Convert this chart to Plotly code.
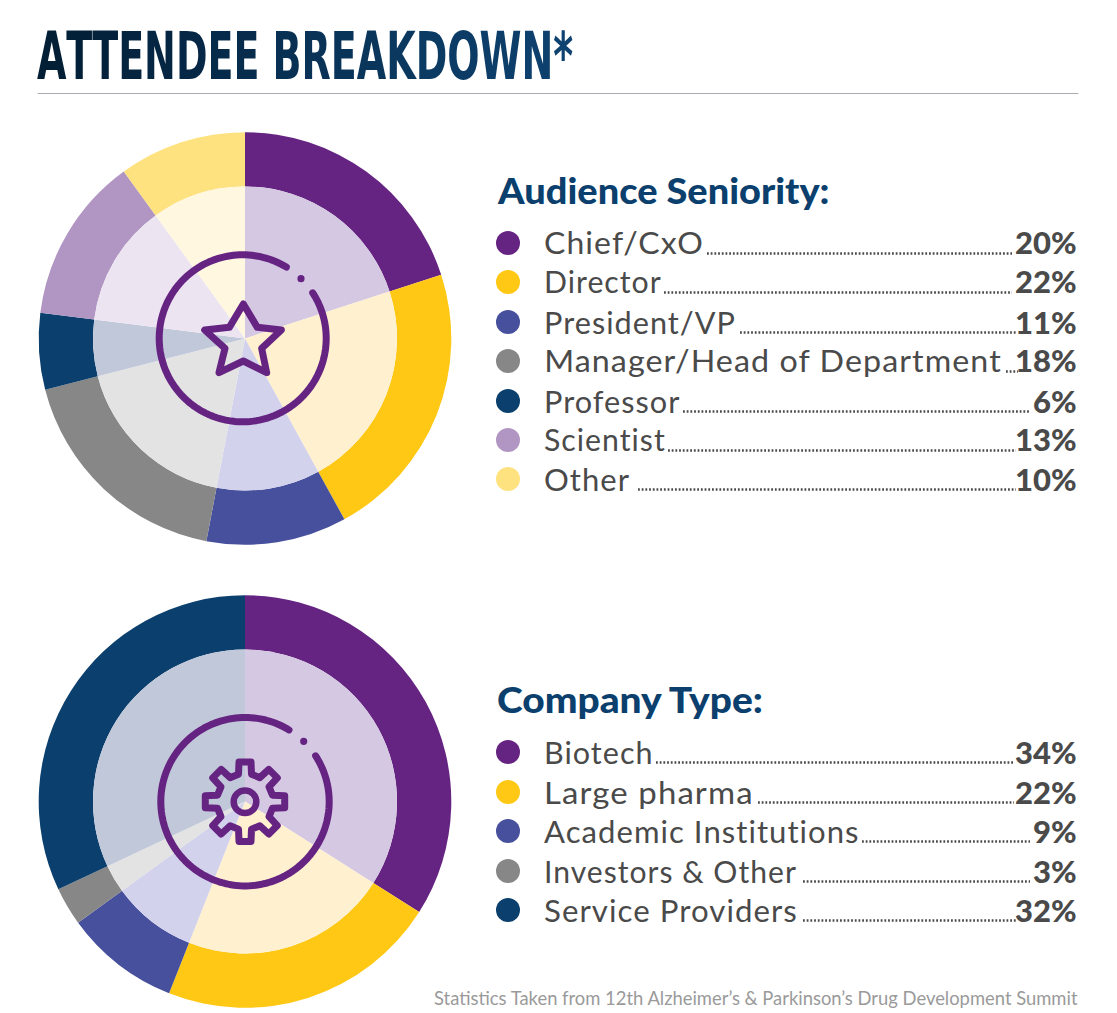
import json
import numpy as np
import plotly.graph_objects as go

W, H = 1117, 1013

seniority_labels = ["Chief/CxO", "Director", "President/VP", "Manager/Head of Department", "Professor", "Scientist", "Other"]
seniority_values = [20, 22, 11, 18, 6, 13, 10]
seniority_dark = ["#662482", "#fec815", "#47509c", "#878787", "#0b3f6d", "#b195c2", "#fee27f"]
seniority_light = ["#d5c8e2", "#fff0d0", "#d3d2ec", "#e3e3e3", "#c1c8da", "#ece4f1", "#fff7e0"]

company_labels = ["Biotech", "Large pharma", "Academic Institutions", "Investors & Other", "Service Providers"]
company_values = [34, 22, 9, 3, 32]
company_dark = ["#662482", "#fec815", "#47509c", "#878787", "#0b3f6d"]
company_light = ["#d5c8e2", "#fff0d0", "#d3d2ec", "#e3e3e3", "#c1c8da"]

# layout of the two legends (pixels)
seniority_layout = dict(rows=[243, 282, 322, 361, 401, 440, 479],
                        ends=[704, 662, 736, 1002, 681, 666, 630],
                        leaders=[(707, 1012), (664, 1012), (740, 1017), (1006, 1018), (683, 1030), (668, 1016), (638, 1016)])
company_layout = dict(rows=[752, 792, 831, 871, 910],
                      ends=[654, 754, 860, 797, 798],
                      leaders=[(656, 1014), (758, 1014), (862, 1030), (803, 1030), (803, 1016)])

BODY = "Lato"
TEXT = "#4a4a4a"
NAVY = "#0b3f6d"
PURPLE = "#662482"


def px(x):
    return x / W


def py(y):
    return 1 - y / H


def pie(cx, cy, r, vals, labels, colors, hole=0):
    return go.Pie(
        values=vals, labels=labels, sort=False, direction="clockwise", rotation=0,
        hole=hole, textinfo="none", hoverinfo="label+percent", showlegend=False,
        marker=dict(colors=colors, line=dict(width=0)),
        domain=dict(x=[px(cx - r), px(cx + r)], y=[py(cy + r), py(cy - r)]),
    )


fig = go.Figure()
for cy, vals, labels, dark, light in [
    (338.5, seniority_values, seniority_labels, seniority_dark, seniority_light),
    (801.5, company_values, company_labels, company_dark, company_light),
]:
    fig.add_trace(pie(245, cy, 206.3, vals, labels, dark, hole=152 / 206.3))
    fig.add_trace(pie(245, cy, 152, vals, labels, light))

shapes = []
annotations = []
fits = []


def poly(points, closed=False, width=7, color=PURPLE):
    d = "M " + " L ".join(f"{px(x):.5f},{py(y):.5f}" for x, y in points)
    if closed:
        d += " Z"
    shapes.append(dict(type="path", xref="paper", yref="paper", path=d, layer="above",
                       line=dict(color=color, width=width)))


def dot(x, y, r, color):
    shapes.append(dict(type="circle", xref="paper", yref="paper", layer="above",
                       x0=px(x - r), x1=px(x + r), y0=py(y + r), y1=py(y - r),
                       fillcolor=color, line=dict(width=0)))


def text(x, y, s, size, color=TEXT, anchor="left", family=BODY, weight=None, spacing=0, fit=None):
    if spacing:
        s = f'<span style="letter-spacing:{spacing}px">{s}</span>'
    if fit:
        fits.append([len(annotations), fit[0], fit[1]])
    annotations.append(dict(x=px(x), y=py(y), xref="paper", yref="paper", text=s, showarrow=False,
                            xanchor=anchor, yanchor="middle", borderpad=0, borderwidth=0,
                            font=dict(size=size, color=color, family=family, weight=weight)))


def ring(cx, cy, r, dot_xy):
    a = np.radians(np.linspace(57, 391.5, 160))
    poly(list(zip(cx + r * np.sin(a), cy - r * np.cos(a))))
    dot(dot_xy[0], dot_xy[1], 3.6, PURPLE)


# star icon
ring(242.7, 338.3, 83.5, (301, 278.7))
star_z = [(310, 207), (352, 277), (424, 285), (365, 340), (380, 413), (310, 378), (237, 413), (255, 340), (194, 285), (268, 277)]
poly([(140 + x / 3, 235 + y / 3) for x, y in star_z], closed=True, width=7)

# gear icon
ring(245, 801.7, 84.2, (303.7, 741.3))
gx, gy = 245, 801.7
gear = []
for k in range(8):
    a = np.radians(k * 45)
    for rad, off in [(27.5, -6.5), (39.7, -6), (39.7, 6), (27.5, 6.5)]:
        gear.append((gx + rad * np.sin(a) + off * np.cos(a), gy - rad * np.cos(a) + off * np.sin(a)))
poly(gear, closed=True, width=7)
shapes.append(dict(type="circle", xref="paper", yref="paper", layer="above",
                   x0=px(gx - 11.3), x1=px(gx + 11.3), y0=py(gy + 11.3), y1=py(gy - 11.3),
                   line=dict(color=PURPLE, width=6.5)))

# title with left-to-right colour shift
title = "ATTENDEE BREAKDOWN*"
c0, c1 = np.array([3, 31, 54]), np.array([14, 66, 112])
spans = ""
for i, ch in enumerate(title):
    c = (c0 + (c1 - c0) * i / (len(title) - 1)).astype(int)
    spans += f'<span style="color:rgb({c[0]},{c[1]},{c[2]})">{ch}</span>'
text(38, 56, spans, 66, anchor="left", family="DejaVu Sans Condensed, DejaVu Sans", weight="bold", fit=(38, 534))
shapes.append(dict(type="line", xref="paper", yref="paper", x0=px(38), x1=px(1078), y0=py(93.5), y1=py(93.5),
                   line=dict(color="#a8acb0", width=1)))

# legends
for head, head_y, head_w, labels, vals, cols, lay in [
    ("Audience Seniority:", 190, 333, seniority_labels, seniority_values, seniority_dark, seniority_layout),
    ("Company Type:", 699, 266, company_labels, company_values, company_dark, company_layout),
]:
    text(497, head_y, head, 36, color=NAVY, weight=900, fit=(497, head_w))
    for lab, val, col, y, end, (l0, l1) in zip(labels, vals, cols, lay["rows"], lay["ends"], lay["leaders"]):
        dot(508, y, 12, col)
        text(544, y - 0.5, lab.replace("&", "&amp;"), 30, spacing=1, fit=(544, end - 544))
        text(1077, y - 0.5, f"{val}%", 31, anchor="right", weight=900)
        shapes.append(dict(type="line", xref="paper", yref="paper", x0=px(l0), x1=px(l1),
                           y0=py(y + 10.5), y1=py(y + 10.5),
                           line=dict(color=TEXT, width=2.6, dash="1.8px,1.9px")))

text(1078, 998, "Statistics Taken from 12th Alzheimer’s &amp; Parkinson’s Drug Development Summit", 18.4,
     color="#9a9a9a", anchor="right")

post = """
document.body.style.margin='0';
document.querySelectorAll('.shapelayer path').forEach(function(p){
  if(!p.style.strokeDasharray){p.style.strokeLinejoin='round';p.style.strokeLinecap='round';}
});
%s.forEach(function(f){
  var g=document.querySelector('.annotation[data-index="'+f[0]+'"]');
  if(!g)return;
  var b=g.getBBox();
  g.setAttribute('transform','translate('+f[1]+' 0) scale('+(f[2]/b.width)+' 1) translate('+(-b.x)+' 0)');
});
""" % json.dumps(fits)

fig.update_layout(width=W, height=H, margin=dict(l=0, r=0, t=0, b=0), paper_bgcolor="white",
                  plot_bgcolor="white", shapes=shapes, annotations=annotations, showlegend=False)
fig.write_html("out.html", post_script=post, config={"displayModeBar": False})
